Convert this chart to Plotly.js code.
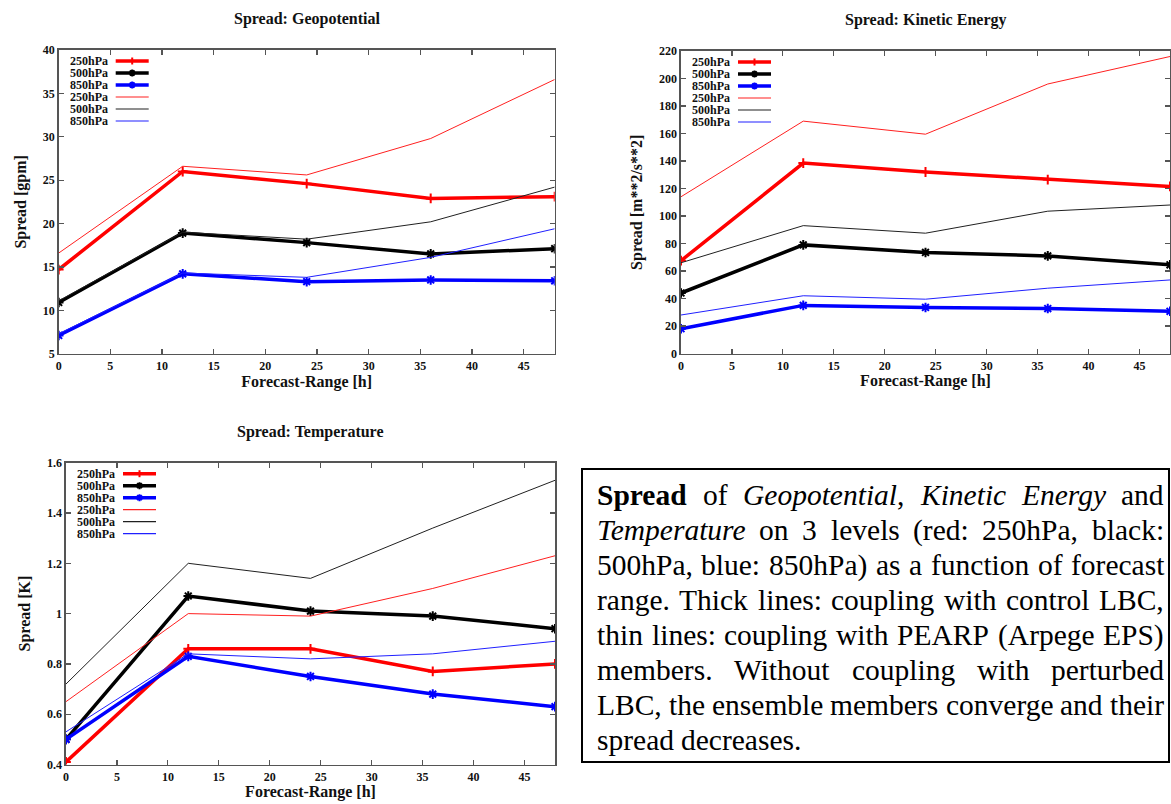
<!DOCTYPE html>
<html>
<head>
<meta charset="utf-8">
<script src="https://cdn.plot.ly/plotly-3.0.1.min.js"></script>
<style>html,body{margin:0;padding:0;background:#fff;}#chart{width:1171px;height:804px;}</style>
</head>
<body>
<div id="chart"></div>
<script>
// ---------- data ----------
const hours = [0, 12, 24, 36, 48];
const levels = ['250hPa', '500hPa', '850hPa'];

// Geopotential spread [gpm]
const geoCtl250 = [14.7, 26.0, 24.6, 22.9, 23.1];
const geoCtl500 = [10.9, 18.9, 17.8, 16.5, 17.1];
const geoCtl850 = [7.1, 14.2, 13.3, 13.5, 13.4];
const geoEps250 = [16.6, 26.6, 25.6, 29.8, 36.6];
const geoEps500 = [11.1, 19.0, 18.2, 20.2, 24.2];
const geoEps850 = [7.3, 14.3, 13.8, 16.1, 19.4];

// Kinetic energy spread [m**2/s**2]
const keCtl250 = [67.5, 138.5, 132.0, 126.5, 121.5];
const keCtl500 = [44.0, 79.0, 73.5, 71.0, 64.5];
const keCtl850 = [18.0, 35.0, 33.5, 32.7, 30.7];
const keEps250 = [114.0, 169.0, 159.5, 196.0, 216.0];
const keEps500 = [66.0, 93.0, 87.5, 103.5, 108.0];
const keEps850 = [28.0, 42.0, 39.5, 47.5, 53.5];

// Temperature spread [K]
const tCtl250 = [0.41, 0.86, 0.86, 0.77, 0.80];
const tCtl500 = [0.50, 1.07, 1.01, 0.99, 0.94];
const tCtl850 = [0.50, 0.83, 0.75, 0.68, 0.63];
const tEps250 = [0.65, 1.00, 0.99, 1.10, 1.23];
const tEps500 = [0.72, 1.20, 1.14, 1.34, 1.53];
const tEps850 = [0.53, 0.84, 0.82, 0.84, 0.89];

const chartTitles = ['Spread: Geopotential', 'Spread: Kinetic Energy', 'Spread: Temperature'];
const yTitles = ['Spread [gpm]', 'Spread [m**2/s**2]', 'Spread [K]'];
const xTitle = 'Forecast-Range [h]';
const yRanges = [[5, 40], [0, 220], [0.4, 1.6]];
const yDticks = [5, 20, 0.2];

const captionLines = [
  '<b>Spread</b> of <i>Geopotential</i>, <i>Kinetic</i> <i>Energy</i> and',
  '<i>Temperature</i> on 3 levels (red: 250hPa, black:',
  '500hPa, blue: 850hPa) as a function of forecast',
  'range. Thick lines: coupling with control LBC,',
  'thin lines: coupling with PEARP (Arpege EPS)',
  'members. Without coupling with perturbed',
  'LBC, the ensemble members converge and their',
  'spread decreases.'
];

// ---------- styling / layout ----------
const W = 1171, H = 804;
const FONT = '"Liberation Serif", "Times New Roman", serif';
const colors = ['#ff0000', '#000000', '#0000ff'];
const thinColors = ['#ff2020', '#202020', '#2020ff'];
const ctlSymbols = ['cross-thin-open', 'asterisk-open', 'asterisk-open'];
const boxes = [
  {L: 58.7, R: 554.7, T: 50, B: 353.7},
  {L: 681, R: 1170, T: 51, B: 353.5},
  {L: 66, R: 555, T: 462.7, B: 764.5}
];
const px = x => x / W;
const py = y => 1 - y / H;

const datasets = [
  {ctl: [geoCtl250, geoCtl500, geoCtl850], eps: [geoEps250, geoEps500, geoEps850]},
  {ctl: [keCtl250, keCtl500, keCtl850], eps: [keEps250, keEps500, keEps850]},
  {ctl: [tCtl250, tCtl500, tCtl850], eps: [tEps250, tEps500, tEps850]}
];

const traces = [];
datasets.forEach((ds, c) => {
  const xa = c === 0 ? 'x' : 'x' + (c + 1);
  const ya = c === 0 ? 'y' : 'y' + (c + 1);
  ds.ctl.forEach((vals, k) => {
    traces.push({
      x: hours, y: vals, xaxis: xa, yaxis: ya, name: levels[k] + ' (control LBC)',
      mode: 'lines+markers', showlegend: false,
      line: {color: colors[k], width: 3.5},
      marker: {symbol: ctlSymbols[k], size: k === 0 ? 7 : 8, color: colors[k],
               line: {color: colors[k], width: 2}}
    });
  });
  ds.eps.forEach((vals, k) => {
    traces.push({
      x: hours, y: vals, xaxis: xa, yaxis: ya, name: levels[k] + ' (PEARP LBC)',
      mode: 'lines', showlegend: false,
      line: {color: thinColors[k], width: 1}
    });
  });
});

const layout = {
  width: W, height: H,
  margin: {l: 0, r: 0, t: 0, b: 0},
  paper_bgcolor: '#ffffff', plot_bgcolor: '#ffffff',
  showlegend: false,
  font: {family: FONT, color: '#111', size: 12},
  annotations: [], shapes: []
};

boxes.forEach((b, c) => {
  const xk = c === 0 ? 'xaxis' : 'xaxis' + (c + 1);
  const yk = c === 0 ? 'yaxis' : 'yaxis' + (c + 1);
  const xa = c === 0 ? 'x' : 'x' + (c + 1);
  const ya = c === 0 ? 'y' : 'y' + (c + 1);
  const common = {
    showline: true, mirror: 'ticks', linecolor: '#555', linewidth: 1.6,
    ticks: 'inside', ticklen: 5, tickwidth: 1.2, tickcolor: '#555',
    showgrid: false, zeroline: false,
    tickfont: {family: FONT, size: 12, weight: 700, color: '#111'}
  };
  layout[xk] = Object.assign({}, common, {
    domain: [px(b.L), px(b.R)], anchor: ya, range: [0, 48], dtick: 5, tick0: 0,
    title: {text: xTitle, font: {family: FONT, size: 16, weight: 700, color: '#111'}, standoff: 2}
  });
  layout[yk] = Object.assign({}, common, {
    domain: [py(b.B), py(b.T)], anchor: xa, range: yRanges[c], dtick: yDticks[c],
    title: {text: yTitles[c], font: {family: FONT, size: 16, weight: 700, color: '#111'}, standoff: 12}
  });
  // chart title
  layout.annotations.push({
    xref: 'paper', yref: 'paper', x: px((b.L + b.R) / 2), y: py(b.T - 31),
    xanchor: 'center', yanchor: 'middle', showarrow: false,
    text: chartTitles[c], font: {family: FONT, size: 16, weight: 700, color: '#111'}
  });
  // gnuplot-style key (label left, sample right)
  for (let i = 0; i < 6; i++) {
    const k = i % 3, thick = i < 3;
    const yy = b.T + 11 + 12 * i;
    layout.annotations.push({
      xref: 'paper', yref: 'paper', x: px(b.L + 50), y: py(yy),
      xanchor: 'right', yanchor: 'middle', showarrow: false, borderpad: 0,
      text: levels[k], font: {family: FONT, size: 12, weight: 700, color: '#111'}
    });
    layout.shapes.push({
      type: 'line', xref: 'paper', yref: 'paper',
      x0: px(b.L + 57), x1: px(b.L + 90), y0: py(yy), y1: py(yy),
      line: {color: thick ? colors[k] : thinColors[k], width: thick ? 3.5 : 1.2}
    });
    if (thick) {
      const cx = b.L + 73.5, r = 3.5;
      let path;
      if (k === 0) {
        path = `M${px(cx)},${py(yy - r)} L${px(cx)},${py(yy + r)}`;
      } else {
        const d = r * 0.7;
        path = `M${px(cx - r)},${py(yy)} L${px(cx + r)},${py(yy)} M${px(cx)},${py(yy - r)} L${px(cx)},${py(yy + r)} ` +
               `M${px(cx - d)},${py(yy - d)} L${px(cx + d)},${py(yy + d)} M${px(cx - d)},${py(yy + d)} L${px(cx + d)},${py(yy - d)}`;
      }
      layout.shapes.push({type: 'path', xref: 'paper', yref: 'paper', path: path,
        line: {color: colors[k], width: 2}});
    }
  }
});

// ---------- caption box (justified text) ----------
const boxL = 582, boxR = 1169, boxT = 469, boxB = 762;
layout.shapes.push({type: 'rect', xref: 'paper', yref: 'paper',
  x0: px(boxL), x1: px(boxR), y0: py(boxB), y1: py(boxT),
  line: {color: '#000', width: 2}, fillcolor: 'rgba(0,0,0,0)'});

const CAP_SIZE = 29.5;
const textL = 596, textR = 1163, line0 = 495, lineGap = 35;
const ctx = document.createElement('canvas').getContext('2d');
function measureWord(w) {
  const re = /<(b|i)>(.*?)<\/\1>|([^<]+)/g;
  let m, total = 0;
  while ((m = re.exec(w)) !== null) {
    let style = '', txt;
    if (m[1]) { style = m[1] === 'b' ? 'bold ' : 'italic '; txt = m[2]; } else { txt = m[3]; }
    ctx.font = style + CAP_SIZE + 'px "Liberation Serif"';
    total += ctx.measureText(txt).width;
  }
  return total;
}
ctx.font = CAP_SIZE + 'px "Liberation Serif"';
const spaceW = ctx.measureText(' ').width;
captionLines.forEach((ln, li) => {
  const words = ln.split(' ');
  const widths = words.map(measureWord);
  const sum = widths.reduce((a, b) => a + b, 0);
  const last = li === captionLines.length - 1;
  const gap = (last || words.length < 2) ? spaceW : (textR - textL - sum) / (words.length - 1);
  let x = textL;
  words.forEach((w, wi) => {
    layout.annotations.push({
      xref: 'paper', yref: 'paper', x: px(x), y: py(line0 + lineGap * li),
      xanchor: 'left', yanchor: 'middle', showarrow: false, borderpad: 0,
      text: w, font: {family: FONT, size: CAP_SIZE, color: '#000'}
    });
    x += widths[wi] + gap;
  });
});

Plotly.newPlot('chart', traces, layout, {displayModeBar: false, staticPlot: true});
</script>
</body>
</html>
